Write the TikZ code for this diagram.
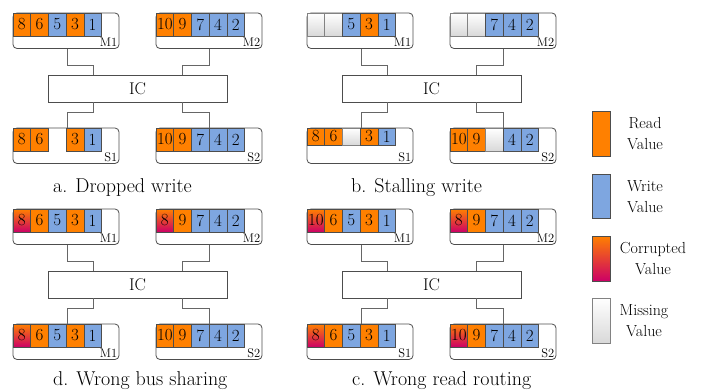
\documentclass[tikz,border=0pt]{standalone}
\usepackage{fontspec}
\usetikzlibrary{calc}
\definecolor{rd}{HTML}{FF8000}
\definecolor{wr}{HTML}{7EA6E0}
\definecolor{cr}{HTML}{CC0066}
\definecolor{ln}{HTML}{4D4D4D}
\definecolor{cn}{HTML}{666666}
\tikzset{
  box/.style={draw=ln, line width=0.8pt, rounded corners=4pt, inner sep=0pt, outer sep=0pt, anchor=north west, minimum width=106pt, minimum height=35.5pt},
  icbox/.style={draw=ln, line width=0.8pt, inner sep=0pt, outer sep=0pt, anchor=north west, minimum width=179pt, minimum height=27pt, font=\fontsize{17}{17}\selectfont},
  cO/.style={fill=rd, draw=ln, line width=0.6pt},
  cB/.style={fill=wr, draw=ln, line width=0.6pt},
  cR/.style={top color=rd, bottom color=cr, draw=ln, line width=0.6pt},
  cM/.style={top color=white, bottom color=black!15, draw=ln!70, line width=0.6pt},
  cN/.style={},
  conn/.style={draw=cn, line width=0.6pt},
  digit/.style={font=\fontsize{17}{17}\selectfont, inner sep=0pt},
  lbl/.style={font=\fontsize{12.5}{12.5}\selectfont, inner sep=0pt, anchor=base east},
  captxt/.style={font=\fontsize{20}{20}\selectfont, inner sep=0pt, anchor=base west},
  leg/.style={font=\fontsize{16}{21}\selectfont, inner sep=0pt, align=center},
}
% #1 x, #2 y, #3 height, #4 list
\newcommand\cellrow[4]{%
  \foreach \t/\v [count=\i from 0] in {#4} {
    \path[\t] ({#1+\i*17.7}, #2) rectangle ++(17.7, #3);
    \node[digit] at ({#1+\i*17.7+8.85}, {#2+#3/2}) {\v};
  }}
% #1 prefix, #2 ox, #3 oy, #4 M1, #5 M2, #6 S1, #7 S2, #8 S1 cell height, #9 S1 label
\newcommand\panel[9]{%
  \node[box] (#1M1) at (#2+13, #3+13) {};
  \node[box] (#1M2) at (#2+156, #3+13) {};
  \node[box] (#1S1) at (#2+13, #3+128) {};
  \node[box] (#1S2) at (#2+156, #3+128) {};
  \node[icbox] (#1IC) at (#2+48, #3+75) {IC};
  \draw[conn] ($(#1M1.south west)+(54,0)$) |- ($(#1IC.north west)+(45,-10)$) -- ($(#1IC.north west)+(45,0)$);
  \draw[conn] ($(#1M2.south west)+(53,0)$) |- ($(#1IC.north west)+(134,-10)$) -- ($(#1IC.north west)+(134,0)$);
  \draw[conn] ($(#1IC.south west)+(45,0)$) -- ++(0,10) -| ($(#1S1.north west)+(54,0)$);
  \draw[conn] ($(#1IC.south west)+(134,0)$) -- ++(0,10) -| ($(#1S2.north west)+(53,0)$);
  \cellrow{#2+13}{#3+13}{23}{#4}
  \cellrow{#2+156}{#3+13}{23}{#5}
  \cellrow{#2+13}{#3+128}{#8}{#6}
  \cellrow{#2+156}{#3+128}{23}{#7}
  \node[lbl] at ($(#1M1.south east)+(-1.5,-2)$) {M1};
  \node[lbl] at ($(#1M2.south east)+(-1.5,-2)$) {M2};
  \node[lbl] at ($(#1S1.south east)+(-1.5,-2)$) {#9};
  \node[lbl] at ($(#1S2.south east)+(-1.5,-2)$) {S2};
}
\begin{document}
\begin{tikzpicture}[x=1pt, y=-1pt]
\useasboundingbox (0,0) rectangle (704,391);
\fill[white] (0,0) rectangle (704,391);
% a. Dropped write
\panel{a}{0}{0}{cO/8,cO/6,cB/5,cO/3,cB/1}{cO/10,cO/9,cB/7,cB/4,cB/2}{cO/8,cO/6,cN/{},cO/3,cB/1}{cO/10,cO/9,cB/7,cB/4,cB/2}{23}{S1}
% b. Stalling write
\panel{b}{294}{0}{cM/{},cM/{},cB/5,cO/3,cB/1}{cM/{},cM/{},cB/7,cB/4,cB/2}{cO/8,cO/6,cM/{},cO/3,cB/1}{cO/10,cO/9,cM/{},cB/4,cB/2}{17}{S1}
% d. Wrong bus sharing
\panel{d}{0}{196}{cR/8,cO/6,cB/5,cO/3,cB/1}{cR/8,cO/9,cB/7,cB/4,cB/2}{cR/8,cO/6,cB/5,cO/3,cB/1}{cO/10,cO/9,cB/7,cB/4,cB/2}{23}{M1}
% c. Wrong read routing
\panel{c}{294}{196}{cR/10,cO/6,cB/5,cO/3,cB/1}{cR/8,cO/9,cB/7,cB/4,cB/2}{cR/8,cO/6,cB/5,cO/3,cB/1}{cR/10,cO/9,cB/7,cB/4,cB/2}{23}{S1}
% captions
\node[captxt] (capa) at (53,192) {a. Dropped write};
\node[captxt] (capb) at (351,192) {b. Stalling write};
\node[captxt] (capd) at (53,385) {d. Wrong bus sharing};
\node[captxt] (capc) at (352,385) {c. Wrong read routing};
% legend
\path[cO] (592,111) rectangle (610,156);
\path[cB] (592,174) rectangle (610,218);
\path[cR] (592,236) rectangle (610,281);
\path[cM] (592,298) rectangle (610,343);
\node[leg] (lr) at (645,134) {Read\\Value};
\node[leg] (lw) at (645,197) {Write\\Value};
\node[leg] (lc) at (653,259) {Corrupted\\Value};
\node[leg] (lm) at (644,321) {Missing\\Value};
\end{tikzpicture}
\end{document}
